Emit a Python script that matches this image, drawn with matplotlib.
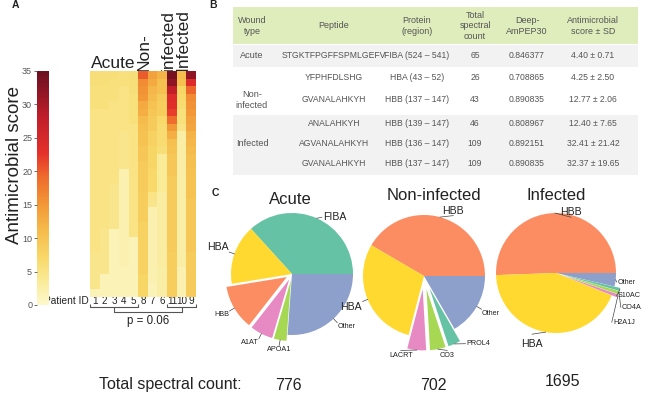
import numpy as np
import matplotlib
matplotlib.use('Agg')
import matplotlib.pyplot as plt
from matplotlib.colors import LinearSegmentedColormap
from matplotlib.patches import Rectangle

plt.rcParams['font.family'] = ['Liberation Sans', 'DejaVu Sans']

# ------------------------------------------------------------------ data
patient_ids = ['1', '2', '3', '4', '5', '8', '7', '6', '11', '10', '9']
# antimicrobial score of ranked peptides per patient (top rank first)
pat1 = [6, 6, 5.5, 5.5, 5.5, 5, 5, 5, 5, 5, 5, 5, 5, 5, 5, 5, 5, 5, 5, 5, 5, 5, 5, 5, 4.5, 4.5, 4.5, 4.5, 4.5, 1.5]
pat2 = [6, 6, 5.5, 5.5, 5.5, 5, 5, 5, 5, 5, 5, 5, 5, 5, 5, 5, 5, 5, 5, 5, 5, 4.5, 4.5, 4.5, 4.5, 4.5, 4.5, 1.5, 1.5, 1.5]
pat3 = [6, 5.5, 5.5, 5.5, 5, 5, 5, 5, 5, 5, 5, 5, 5, 5, 5, 4.5, 4.5, 4.5, 4.5, 4.5, 4.5, 1.5, 1.5, 1.5, 1.5, 1.5, 1.5, 1.5, 1.5, 1.5]
pat4 = [5.5, 5.5, 5, 5, 5, 5, 5, 5, 4.5, 4.5, 4.5, 4.5, 4.5, 2, 2, 2, 2, 2, 2, 2, 2, 2, 2, 2, 2, 2, 1.5, 1.5, 1.5, 1.5]
pat5 = [6, 6, 6, 5.5, 5.5, 5.5, 5.5, 5, 5, 5, 5, 5, 5, 5, 5, 5, 5, 5, 5, 5, 5, 5, 1.5, 1.5, 1.5, 1.5, 1.5, 1.5, 1.5, 1.5]
pat8 = [20, 16, 15.5, 15, 13, 12.5, 11, 10.5, 10, 10, 9.5, 9.5, 9, 9, 9, 9, 8.5, 8.5, 8.5, 8.5, 8, 8, 8, 8, 8, 8, 8, 7.5, 7.5, 7.5]
pat7 = [14, 13, 11.5, 11, 10, 9.5, 9, 9, 8, 8, 7.5, 7.5, 7.5, 7, 7, 7, 5, 4.5, 2, 2, 2, 2, 2, 2, 2, 2, 2, 2, 1.5, 1.5]
pat6 = [12, 10.5, 10.5, 9, 8.5, 8.5, 7, 6.5, 6.5, 6.5, 6, 3.5, 3.5, 3.5, 3.5, 3.5, 3, 3, 3, 3, 3, 3, 3, 3, 3, 3, 2.5, 2.5, 2.5, 2.5]
pat11 = [34, 32, 28, 24, 23.5, 22, 19, 15, 12.5, 10.5, 10, 9.5, 9.5, 9.5, 9, 9, 9, 9, 9, 9, 9, 9, 9, 9, 8.5, 8.5, 8.5, 8.5, 8.5, 8.5]
pat10 = [11, 10.5, 7.5, 7, 6.5, 5.5, 5.5, 5, 2.5, 2.5, 2.5, 2.5, 2.5, 2.5, 2.5, 2.5, 2.5, 2.5, 2.5, 2.5, 2.5, 2.5, 2.5, 2.5, 2.5, 2.5, 2, 2, 2, 2]
pat9 = [32, 24, 19.5, 16, 15.5, 15, 14, 13.5, 12, 11.5, 11, 10.5, 10.5, 10, 10, 10, 10, 9.5, 9.5, 9.5, 9.5, 9.5, 9.5, 9.5, 9, 9, 9, 9, 9, 9]
cbar_ticks = [0, 5, 10, 15, 20, 25, 30, 35]
p_value_text = 'p = 0.06'

table_header = ['Wound\ntype', 'Peptide', 'Protein\n(region)', 'Total\nspectral\ncount',
                'Deep-\nAmPEP30', 'Antimicrobial\nscore \u00b1 SD']
wound_types = ['Acute', 'Non-\ninfected', 'Infected']
peptides = ['STGKTFPGFFSPMLGEFV', 'YFPHFDLSHG', 'GVANALAHKYH', 'ANALAHKYH', 'AGVANALAHKYH', 'GVANALAHKYH']
proteins = ['FIBA (524 \u2013 541)', 'HBA (43 \u2013 52)', 'HBB (137 \u2013 147)', 'HBB (139 \u2013 147)',
            'HBB (136 \u2013 147)', 'HBB (137 \u2013 147)']
spectral_counts = [65, 26, 43, 46, 109, 109]
deep_ampep30 = ['0.846377', '0.708865', '0.890835', '0.808967', '0.892151', '0.890835']
am_scores = ['4.40 \u00b1 0.71', '4.25 \u00b1 2.50', '12.77 \u00b1 2.06', '12.40 \u00b1 7.65',
             '32.41 \u00b1 21.42', '32.37 \u00b1 19.65']

pie_titles = ['Acute', 'Non-infected', 'Infected']
acute_labels = ['FIBA', 'HBA', 'HBB', 'A1AT', 'APOA1', 'Other']
acute_counts = [285, 123, 92, 47, 26, 203]
noninf_labels = ['HBB', 'HBA', 'LACRT', 'CO3', 'PROL4', 'Other']
noninf_counts = [292, 206, 35, 29, 23, 117]
inf_labels = ['HBB', 'HBA', 'H2A1J', 'CO4A', 'S10AC', 'Other']
inf_counts = [857, 735, 14, 14, 14, 61]
total_counts = [776, 702, 1695]

# ------------------------------------------------------------------ layout
W, H = 650, 396
fig = plt.figure(figsize=(W / 100, H / 100), dpi=100)


def rect(x0, y0, x1, y1):
    return [x0 / W, 1 - y1 / H, (x1 - x0) / W, (y1 - y0) / H]


ov = fig.add_axes([0, 0, 1, 1], zorder=0)
ov.set_xlim(0, W)
ov.set_ylim(H, 0)
ov.axis('off')

TXT = '#222222'
GRAY = '#555555'

# ---------------- panel A : heatmap
cmap = LinearSegmentedColormap.from_list('amp', [
    (0.0, '#fdf8cc'), (0.1, '#faeb98'), (0.2, '#f8d96a'), (0.3, '#f6c050'),
    (0.42, '#f39b38'), (0.55, '#ee6a2d'), (0.65, '#e5302a'), (0.8, '#c11e2a'),
    (1.0, '#6a1020')])

mat = np.column_stack([pat1, pat2, pat3, pat4, pat5, pat8, pat7, pat6, pat11, pat10, pat9])
hx0, hx1, hy0, hy1 = 90, 196, 71, 297
hax = fig.add_axes(rect(hx0, hy0, hx1, hy1), zorder=2)
im = hax.imshow(mat, cmap=cmap, vmin=0, vmax=35, aspect='auto', interpolation='nearest')
hax.axis('off')

cax = fig.add_axes(rect(37, 71, 49, 305), zorder=2)
cb = fig.colorbar(im, cax=cax, ticks=cbar_ticks)
cb.outline.set_visible(False)
cax.yaxis.set_ticks_position('left')
cax.tick_params(axis='y', labelsize=6.5, length=2.5, width=0.6, colors=GRAY, pad=1)

fig.text(15 / W, 1 - 165 / H, 'Antimicrobial score', rotation=90, ha='center', va='center',
         fontsize=13.5, color=TXT)
ov.text(15, 5, 'A', fontsize=7.5, fontweight='bold', ha='center', va='center', color=TXT)

colw = (hx1 - hx0) / len(patient_ids)
ov.text(113, 71, 'Acute', fontsize=12.5, ha='center', va='bottom', color=TXT)
ov.text(144, 71, 'Non-', fontsize=12.5, rotation=90, ha='center', va='bottom', color=TXT)
ov.text(168, 71, 'infected', fontsize=12.5, rotation=90, ha='center', va='bottom', color=TXT)
ov.text(182.5, 71, 'Infected', fontsize=12.5, rotation=90, ha='center', va='bottom', color=TXT)

ov.text(66, 300.5, 'Patient ID', fontsize=7.3, ha='center', va='center', color=TXT)
for i, pid in enumerate(patient_ids):
    ov.text(hx0 + colw * (i + 0.5), 300.5, pid, fontsize=7.1, ha='center', va='center', color=TXT)

# brackets
lk = dict(color=GRAY, lw=0.8, solid_capstyle='butt')
b1a, b1b = hx0, hx0 + colw * 5
b2a, b2b = hx0 + colw * 8, hx1
m1, m2 = (b1a + b1b) / 2, (b2a + b2b) / 2
ov.plot([b1a, b1a, b1b, b1b], [304, 307, 307, 304], **lk)
ov.plot([b2a, b2a, b2b, b2b], [304, 307, 307, 304], **lk)
ov.plot([m1, m1, m2, m2], [307, 312, 312, 307], **lk)
ov.text((m1 + m2) / 2, 321, p_value_text, fontsize=8.3, ha='center', va='center', color=TXT)

# ---------------- panel B : table
ov.text(213, 5, 'B', fontsize=7.5, fontweight='bold', ha='center', va='center', color=TXT)
tx0, tx1 = 233, 638
ov.add_patch(Rectangle((tx0, 7), tx1 - tx0, 37, facecolor='#dfedbd', edgecolor='none'))
ov.add_patch(Rectangle((tx0, 45), tx1 - tx0, 22, facecolor='#f2f2f2', edgecolor='none'))
ov.add_patch(Rectangle((tx0, 115), tx1 - tx0, 60, facecolor='#f2f2f2', edgecolor='none'))
col_x = [252, 334, 417, 475, 527, 593]
for x, h in zip(col_x, table_header):
    ov.text(x, 26, h, fontsize=6.5, ha='center', va='center', color=GRAY, linespacing=1.25)
row_y = [56, 78, 100, 124, 144, 163]
wound_y = [56, 100, 144]
for y, w in zip(wound_y, wound_types):
    ov.text(col_x[0], y, w, fontsize=6.6, ha='center', va='center', color=GRAY, linespacing=1.2)
for i, y in enumerate(row_y):
    vals = [peptides[i], proteins[i], str(spectral_counts[i]), deep_ampep30[i], am_scores[i]]
    for x, v in zip(col_x[1:], vals):
        ov.text(x, y, v, fontsize=6.2, ha='center', va='center', color=GRAY)

# ---------------- panel C : pies
ov.text(215, 193, 'C', fontsize=7.5, fontweight='bold', ha='center', va='center', color=TXT)

C_GREEN, C_ORANGE, C_BLUE = '#66c2a5', '#fc8d62', '#8da0cb'
C_PINK, C_LIME, C_YELLOW = '#e78ac3', '#a6d854', '#ffd92f'


def draw_pie(cx, cy, r, labels, counts, colors, explode, overrides):
    s = 1.6
    ax = fig.add_axes(rect(cx - s * r, cy - s * r, cx + s * r, cy + s * r), zorder=3)
    wedges, _ = ax.pie(counts, colors=colors, explode=explode, startangle=0,
                       counterclock=True, radius=1, wedgeprops=dict(linewidth=0))
    ax.set_xlim(-s, s)
    ax.set_ylim(-s, s)
    ax.set_aspect('equal')
    ax.axis('off')
    total = sum(counts)
    for w, lab, cnt, ex in zip(wedges, labels, counts, explode):
        ang = np.deg2rad((w.theta1 + w.theta2) / 2)
        c, sn = np.cos(ang), np.sin(ang)
        r0 = 1.0 + ex
        big = lab != 'Other' and cnt / total > 0.15
        fs = 7.6 if big else 5.2
        ex_pt = (r0 * c, r0 * sn)
        if lab in overrides:
            tx, ty, ha, va = overrides[lab]
            if ha == 'left':
                lx, ly = tx - 0.02, ty
            elif ha == 'right':
                lx, ly = tx + 0.02, ty
            else:
                lx, ly = tx, ty + (0.08 if ty < ex_pt[1] else -0.08)
            ax.plot([ex_pt[0], lx], [ex_pt[1], ly], color='#444444', lw=0.5, clip_on=False)
        else:
            rt = r0 + 0.1
            tx, ty = rt * c, rt * sn
            ha = 'left' if c > 0.3 else ('right' if c < -0.3 else 'center')
            va = 'bottom' if sn > 0.3 else ('top' if sn < -0.3 else 'center')
            ax.plot([ex_pt[0], (r0 + 0.09) * c], [ex_pt[1], (r0 + 0.09) * sn],
                    color='#444444', lw=0.5, clip_on=False)
        ax.text(tx, ty, lab, fontsize=fs, ha=ha, va=va, color=TXT, clip_on=False)
    return ax


draw_pie(292, 274, 61, acute_labels, acute_counts,
         [C_GREEN, C_YELLOW, C_ORANGE, C_PINK, C_LIME, C_BLUE],
         [0, 0, 0.1, 0.1, 0.1, 0],
         {'FIBA': (0.51, 0.93, 'left', 'center')})
draw_pie(424, 276, 61, noninf_labels, noninf_counts,
         [C_ORANGE, C_YELLOW, C_PINK, C_LIME, C_GREEN, C_BLUE],
         [0, 0, 0.22, 0.22, 0.22, 0],
         {'HBB': (0.48, 1.07, 'center', 'center'),
          'LACRT': (-0.38, -1.3, 'center', 'center'),
          'CO3': (0.38, -1.3, 'center', 'center'),
          'PROL4': (0.7, -1.11, 'left', 'center')})
draw_pie(556, 273, 60, inf_labels, inf_counts,
         [C_ORANGE, C_YELLOW, C_PINK, C_LIME, C_GREEN, C_BLUE],
         [0, 0, 0.1, 0.1, 0.1, 0],
         {'HBB': (0.25, 1.01, 'center', 'center'),
          'HBA': (-0.4, -1.1, 'center', 'top'),
          'Other': (1.03, -0.15, 'left', 'center'),
          'S10AC': (1.03, -0.38, 'left', 'center'),
          'CO4A': (1.1, -0.57, 'left', 'center'),
          'H2A1J': (0.95, -0.82, 'left', 'center')})

title_xy = [(290, 200), (434, 196), (556, 195)]
for (x, y), t in zip(title_xy, pie_titles):
    ov.text(x, y, t, fontsize=12, ha='center', va='center', color=TXT)

ov.text(170, 385, 'Total spectral count:', fontsize=11.5, ha='center', va='center', color=TXT)
count_xy = [(288, 385), (433, 385), (563, 381)]
for (x, y), n in zip(count_xy, total_counts):
    ov.text(x, y, str(n), fontsize=11.5, ha='center', va='center', color=TXT)

fig.savefig('out.png', dpi=100)
